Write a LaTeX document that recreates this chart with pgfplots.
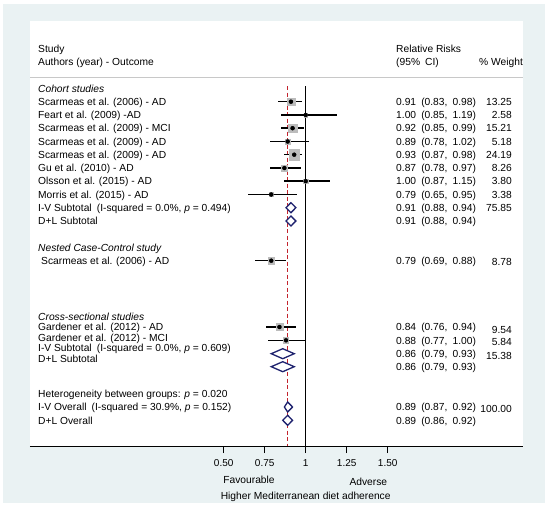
\documentclass[border=0pt]{standalone}
\usepackage{fontspec}
\setmainfont{Liberation Sans}
\usepackage{pgfplots}
\pgfplotsset{compat=1.18}
\usepackage{pgfplotstable}

\definecolor{panel}{RGB}{234,242,243}
\definecolor{boxgray}{RGB}{188,188,188}
\definecolor{navy}{RGB}{30,34,110}
\definecolor{refred}{RGB}{195,35,45}
\definecolor{hdrline}{RGB}{200,200,200}

% y = row (px from top, negative), rr = relative risk, lo/hi = 95% CI, w = % weight
\pgfplotstableread{
y      rr    lo    hi    w
-101.7 0.91  0.83  0.98  13.25
-115.0 1.00  0.85  1.19  2.58
-128.2 0.92  0.85  0.99  15.21
-141.5 0.89  0.78  1.02  5.18
-154.7 0.93  0.87  0.98  24.19
-168.0 0.87  0.78  0.97  8.26
-181.2 1.00  0.87  1.15  3.80
-194.5 0.79  0.65  0.95  3.38
-260.7 0.79  0.69  0.88  8.78
-327.0 0.84  0.76  0.94  9.54
-340.3 0.88  0.77  1.00  5.84
}\studies

\newcommand{\fs}{\fontsize{10.25}{12}\selectfont}
\newcommand{\Lt}[3][38]{\node[anchor=base west] at (#1,#2+3.7) {#3};}
\newcommand{\Rv}[4]{\node[anchor=base west] at (396,#1+3.7) {#2\hspace{0.5em}(#3,\hspace{0.5em}#4)};}
\newcommand{\Rw}[2]{\node[anchor=base east] at (512,#1+3.7) {#2};}

\begin{document}
\begin{tikzpicture}[x=1pt,y=-1pt,every node/.style={font=\fs,inner sep=0pt}]
\fill[white] (0,0) rectangle (550,509);
\fill[panel] (3,4) rectangle (545,503);

\begin{axis}[
  at={(30pt,-446pt)}, anchor=south west,
  scale only axis, width=493pt, height=425pt,
  xmin=-0.681, xmax=2.325, ymin=-446, ymax=-21,
  axis background/.style={fill=white},
  axis x line*=bottom, axis y line=none,
  x axis line style={black, line width=0.9pt},
  xtick={0.5,0.75,1,1.25,1.5},
  xticklabels={0.50,0.75,1,1.25,1.50},
  xtick pos=bottom, ytick=\empty,
  xtick align=outside, major tick length=7pt,
  every tick/.style={black, line width=1pt},
  xticklabel style={font=\fontsize{10}{12}\selectfont, anchor=base, yshift=-13pt},
  clip=false,
  box/.style={only marks, mark=square*, color=boxgray},
  name=fp,
]
\addplot[black, line width=0.8pt] coordinates {(1,-86) (1,-446)};
\addplot[refred, line width=1pt, dash pattern=on 4pt off 2.5pt] coordinates {(0.89,-86) (0.89,-446)};

% weight boxes, half side ~ sqrt(weight)
\addplot[box, mark size=3.97] coordinates {(0.91,-101.7)};
\addplot[box, mark size=1.75] coordinates {(1.00,-115.0)};
\addplot[box, mark size=4.25] coordinates {(0.92,-128.2)};
\addplot[box, mark size=2.48] coordinates {(0.89,-141.5)};
\addplot[box, mark size=5.36] coordinates {(0.93,-154.7)};
\addplot[box, mark size=3.13] coordinates {(0.87,-168.0)};
\addplot[box, mark size=2.12] coordinates {(1.00,-181.2)};
\addplot[box, mark size=2.00] coordinates {(0.79,-194.5)};
\addplot[box, mark size=3.23] coordinates {(0.79,-260.7)};
\addplot[box, mark size=3.37] coordinates {(0.84,-327.0)};
\addplot[box, mark size=2.63] coordinates {(0.88,-340.3)};

% confidence intervals
\addplot[only marks, mark=none,
  error bars/.cd, x dir=both, x explicit, error mark=none,
  error bar style={line width=1.5pt, black}]
  table[x=rr, y=y, x error minus expr=\thisrow{rr}-\thisrow{lo},
        x error plus expr=\thisrow{hi}-\thisrow{rr}] {\studies};

% point estimates
\addplot[only marks, mark=*, mark size=1.5pt, black] table[x=rr, y=y] {\studies};

% pooled estimates
\addplot[navy, fill=white, line width=1.3pt] coordinates {(0.88,-207.7) (0.91,-202.7) (0.94,-207.7) (0.91,-212.7)} -- cycle;
\addplot[navy, fill=white, line width=1.3pt] coordinates {(0.88,-221.0) (0.91,-216.0) (0.94,-221.0) (0.91,-226.0)} -- cycle;
\addplot[navy, fill=white, line width=1.3pt] coordinates {(0.79,-353.7) (0.86,-348.7) (0.93,-353.7) (0.86,-358.7)} -- cycle;
\addplot[navy, fill=white, line width=1.3pt] coordinates {(0.79,-366.7) (0.86,-361.7) (0.93,-366.7) (0.86,-371.7)} -- cycle;
\addplot[navy, fill=white, line width=1.3pt] coordinates {(0.87,-407.0) (0.89,-402.0) (0.92,-407.0) (0.89,-412.0)} -- cycle;
\addplot[navy, fill=white, line width=1.3pt] coordinates {(0.86,-420.3) (0.89,-415.3) (0.92,-420.3) (0.89,-425.3)} -- cycle;
\end{axis}

% tick marks below the axis line (x = 1 lies at 305.7 px, 0.25 = 41 px)
\foreach \tx in {223.7,264.7,305.7,346.7,387.7}
  \draw[black, line width=1pt] (\tx,446) -- (\tx,453);

\draw[hdrline, line width=0.9pt] (30,77.7) -- (523,77.7);

% header
\Lt{49}{Study}
\Lt{61.7}{Authors (year) - Outcome}
\node[anchor=base west] at (396,49+3.7) {Relative Risks};
\node[anchor=base west] at (396,61.7+3.7) {(95\%\hspace{0.5em}CI)};
\node[anchor=base west] at (479,61.7+3.7) {\% Weight};

% cohort studies
\Lt{88.5}{\textit{Cohort studies}}
\Lt{101.7}{Scarmeas et al. (2006) - AD}
\Lt{115.0}{Feart et al. (2009) -AD}
\Lt{128.2}{Scarmeas et al. (2009) - MCI}
\Lt{141.5}{Scarmeas et al. (2009) - AD}
\Lt{154.7}{Scarmeas et al. (2009) - AD}
\Lt{168.0}{Gu et al. (2010) - AD}
\Lt{181.2}{Olsson et al. (2015) - AD}
\Lt{194.5}{Morris et al. (2015) - AD}
\Lt{207.7}{I-V Subtotal\hspace{0.5em}(I-squared = 0.0\%, \textit{p} = 0.494)}
\Lt{221.0}{D+L Subtotal}
\Rv{101.7}{0.91}{0.83}{0.98}\Rw{101.7}{13.25}
\Rv{115.0}{1.00}{0.85}{1.19}\Rw{115.0}{2.58}
\Rv{128.2}{0.92}{0.85}{0.99}\Rw{128.2}{15.21}
\Rv{141.5}{0.89}{0.78}{1.02}\Rw{141.5}{5.18}
\Rv{154.7}{0.93}{0.87}{0.98}\Rw{154.7}{24.19}
\Rv{168.0}{0.87}{0.78}{0.97}\Rw{168.0}{8.26}
\Rv{181.2}{1.00}{0.87}{1.15}\Rw{181.2}{3.80}
\Rv{194.5}{0.79}{0.65}{0.95}\Rw{194.5}{3.38}
\Rv{207.7}{0.91}{0.88}{0.94}\Rw{207.7}{75.85}
\Rv{221.0}{0.91}{0.88}{0.94}

% nested case-control
\Lt{248}{\textit{Nested Case-Control study}}
\Lt[41]{260.7}{Scarmeas et al. (2006) - AD}
\Rv{260.7}{0.79}{0.69}{0.88}\Rw{261.5}{8.78}

% cross-sectional
\Lt{316.7}{\textit{Cross-sectional studies}}
\Lt{326.7}{Gardener et al. (2012) - AD}
\Lt{337.3}{Gardener et al. (2012) - MCI}
\Lt{348}{I-V Subtotal\hspace{0.5em}(I-squared = 0.0\%, \textit{p} = 0.609)}
\Lt{358.3}{D+L Subtotal}
\Rv{326.7}{0.84}{0.76}{0.94}\Rw{330}{9.54}
\Rv{340.7}{0.88}{0.77}{1.00}\Rw{342}{5.84}
\Rv{354}{0.86}{0.79}{0.93}\Rw{355.7}{15.38}
\Rv{366.3}{0.86}{0.79}{0.93}

% overall
\Lt{393.7}{Heterogeneity between groups: \textit{p} = 0.020}
\Lt{407}{I-V Overall\hspace{0.5em}(I-squared = 30.9\%, \textit{p} = 0.152)}
\Lt{420.3}{D+L Overall}
\Rv{407}{0.89}{0.87}{0.92}\Rw{408.5}{100.00}
\Rv{420.3}{0.89}{0.86}{0.92}

% axis captions
\node[anchor=base] at (249,480+3.7) {Favourable};
\node[anchor=base] at (368.3,481.7+3.7) {Adverse};
\node[anchor=base] at (305.7,496+3.7) {Higher Mediterranean diet adherence};
\end{tikzpicture}
\end{document}
